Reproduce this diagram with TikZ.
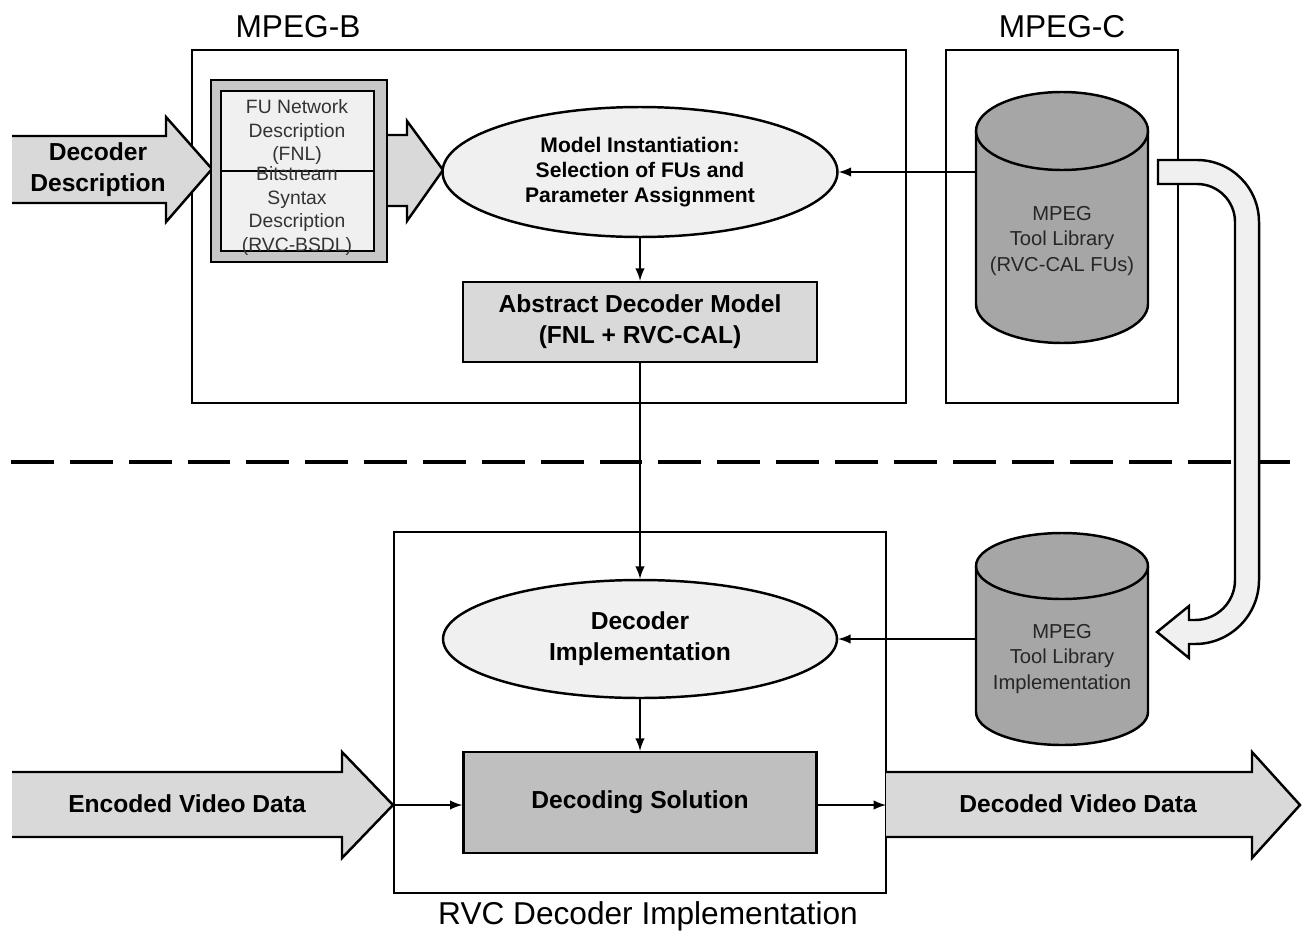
\documentclass[tikz,border=0pt]{standalone}
\usepackage{fontspec}
\setmainfont{Liberation Sans}
\usepackage{xcolor}
\usetikzlibrary{shapes.geometric,arrows,positioning,calc}
\definecolor{arrowgray}{rgb}{0.85, 0.85, 0.85}
\definecolor{lightfill}{rgb}{0.94, 0.94, 0.94}
\definecolor{solgray}{rgb}{0.75, 0.75, 0.75}
\definecolor{libgray}{rgb}{0.65, 0.65, 0.65}
\definecolor{stackgray}{rgb}{0.78, 0.78, 0.78}

\begin{document}
\begin{tikzpicture}[x=0.02cm, y=0.02cm,
    frame/.style={draw, line width=1.1pt, inner sep=0pt},
    blocktext/.style={font=\bfseries\fontsize{14}{17.5}\selectfont, align=center},
    titletext/.style={font=\fontsize{18}{20}\selectfont},
    plaintext/.style={font=\fontsize{11}{13.6}\selectfont, align=center, text=black!80},
    libtext/.style={font=\fontsize{11.5}{14.7}\selectfont, align=center, text=black!85},
    outline/.style={draw, line width=1.4pt, line join=miter},
    flow/.style={->, >=latex, line width=1.4pt},
    libshape/.style={draw, line width=1.4pt, fill=libgray}]
  \useasboundingbox (0,0) rectangle (1304,-936);

  % standard parts
  \node (mpegb) [frame, minimum width=14.28cm, minimum height=7.06cm] at (549,-226.5) {};
  \node (mpegb_title) [titletext] at (298,-27) {MPEG-B};
  \node (mpegc) [frame, minimum width=4.64cm, minimum height=7.06cm] at (1062,-226.5) {};
  \node (mpegc_title) [titletext] at (1062,-27) {MPEG-C};
  \node (rvc) [frame, minimum width=9.84cm, minimum height=7.22cm] at (640,-712.5) {};
  \node (rvc_title) [titletext] at (648,-916) {RVC Decoder Implementation};

  \draw [line width=2.3pt, dash pattern=on 24.4pt off 9.1pt] (11,-462) -- (1294,-462);

  % decoder description input
  \fill [arrowgray] (12,-136) -- (166,-136) -- (166,-117) -- (212,-169) -- (166,-222) -- (166,-203) -- (12,-203) -- cycle;
  \draw [outline] (12,-136) -- (166,-136) -- (166,-117) -- (212,-169) -- (166,-222) -- (166,-203) -- (12,-203);
  \node (dec_desc) [blocktext] at (98,-170) {Decoder\\Description};

  \draw [outline, fill=arrowgray] (380,-135) -- (407,-135) -- (407,-121) -- (443,-170) -- (407,-221) -- (407,-206) -- (380,-206) -- cycle;

  \node (fu_stack) [draw, line width=1.4pt, fill=stackgray, minimum width=3.52cm, minimum height=3.64cm] at (299,-171) {};
  \node (fu_inner) [draw, line width=1.4pt, fill=lightfill, minimum width=3.06cm, minimum height=3.2cm] at (297.5,-171) {};
  \draw [line width=1.4pt] (fu_inner.west) -- (fu_inner.east);
  \node (fnl_text) [plaintext] at (297,-132) {FU Network\\Description\\(FNL)};
  \node (bsdl_text) [plaintext] at (297,-211) {Bitstream\\Syntax\\Description\\(RVC-BSDL)};

  \node (model_inst) [ellipse, outline, fill=lightfill, minimum width=7.9cm, minimum height=2.6cm,
    font=\bfseries\fontsize{12}{14}\selectfont, align=center] at (640,-172)
    {Model Instantiation:\\Selection of FUs and\\Parameter Assignment};
  \node (abstract) [rectangle, outline, fill=arrowgray, minimum width=7.08cm, minimum height=1.6cm, blocktext] at (640,-322)
    {Abstract Decoder Model\\(FNL + RVC-CAL)};

  % tool libraries
  \draw [libshape] (976,-131) -- (976,-304) arc[start angle=180, end angle=360, x radius=86, y radius=39]
    -- (1148,-131) arc[start angle=0, end angle=180, x radius=86, y radius=39] -- cycle;
  \draw [line width=1.4pt] (976,-131) arc[start angle=180, end angle=360, x radius=86, y radius=39];
  \node (tool_lib) [minimum width=3.44cm, minimum height=5.02cm, inner sep=0pt] at (1062,-217.5) {};
  \node (tool_lib_text) [libtext] at (1062,-241) {MPEG\\Tool Library\\(RVC-CAL FUs)};

  \draw [libshape] (976,-566) -- (976,-712) arc[start angle=180, end angle=360, x radius=86, y radius=33]
    -- (1148,-566) arc[start angle=0, end angle=180, x radius=86, y radius=33] -- cycle;
  \draw [line width=1.4pt] (976,-566) arc[start angle=180, end angle=360, x radius=86, y radius=33];
  \node (impl_lib) [minimum width=3.44cm, minimum height=4.24cm, inner sep=0pt] at (1062,-639) {};
  \node (impl_lib_text) [libtext] at (1062,-659) {MPEG\\Tool Library\\Implementation};

  % bent arrow between the libraries
  \draw [outline, fill=lightfill] (1158,-160) -- (1197,-160) arc[start angle=90, end angle=0, radius=62]
    -- (1259,-580) arc[start angle=0, end angle=-90, radius=64] -- (1189,-644) -- (1189,-658) -- (1157,-632)
    -- (1189,-606) -- (1189,-620) -- (1195,-620) arc[start angle=-90, end angle=0, radius=40]
    -- (1235,-222) arc[start angle=0, end angle=90, radius=38] -- (1158,-184) -- cycle;

  \node (dec_impl) [ellipse, outline, fill=lightfill, minimum width=7.88cm, minimum height=2.36cm, blocktext] at (640,-639)
    {Decoder\\Implementation};
  \node (dec_sol) [rectangle, outline, fill=solgray, minimum width=7.06cm, minimum height=2.02cm, blocktext] at (640,-802.5)
    {Decoding Solution};

  % video data in and out
  \fill [arrowgray] (12,-772) -- (342,-772) -- (342,-752) -- (393,-805) -- (342,-858) -- (342,-837) -- (12,-837) -- cycle;
  \draw [outline] (12,-772) -- (342,-772) -- (342,-752) -- (393,-805) -- (342,-858) -- (342,-837) -- (12,-837);
  \node (enc_data) [blocktext] at (187,-804) {Encoded Video Data};
  \coordinate (enc_tip) at (393,-805);

  \fill [arrowgray] (886,-772) -- (1252,-772) -- (1252,-752) -- (1300,-805) -- (1252,-858) -- (1252,-837) -- (886,-837) -- cycle;
  \draw [outline] (886,-772) -- (1252,-772) -- (1252,-752) -- (1300,-805) -- (1252,-858) -- (1252,-837) -- (886,-837);
  \node (dec_data) [blocktext] at (1078,-804) {Decoded Video Data};
  \coordinate (dec_tail) at (886,-805);

  % connectors
  \draw [flow] (model_inst.east -| tool_lib.west) -- (model_inst.east);
  \draw [flow] (model_inst) -- (abstract);
  \draw [flow] (abstract) -- (dec_impl);
  \draw [flow] (dec_impl.east -| impl_lib.west) -- (dec_impl.east);
  \draw [flow] (dec_impl) -- (dec_sol);
  \draw [flow] (enc_tip) -- (enc_tip -| dec_sol.west);
  \draw [flow] (dec_tail -| dec_sol.east) -- (dec_tail);
\end{tikzpicture}
\end{document}
